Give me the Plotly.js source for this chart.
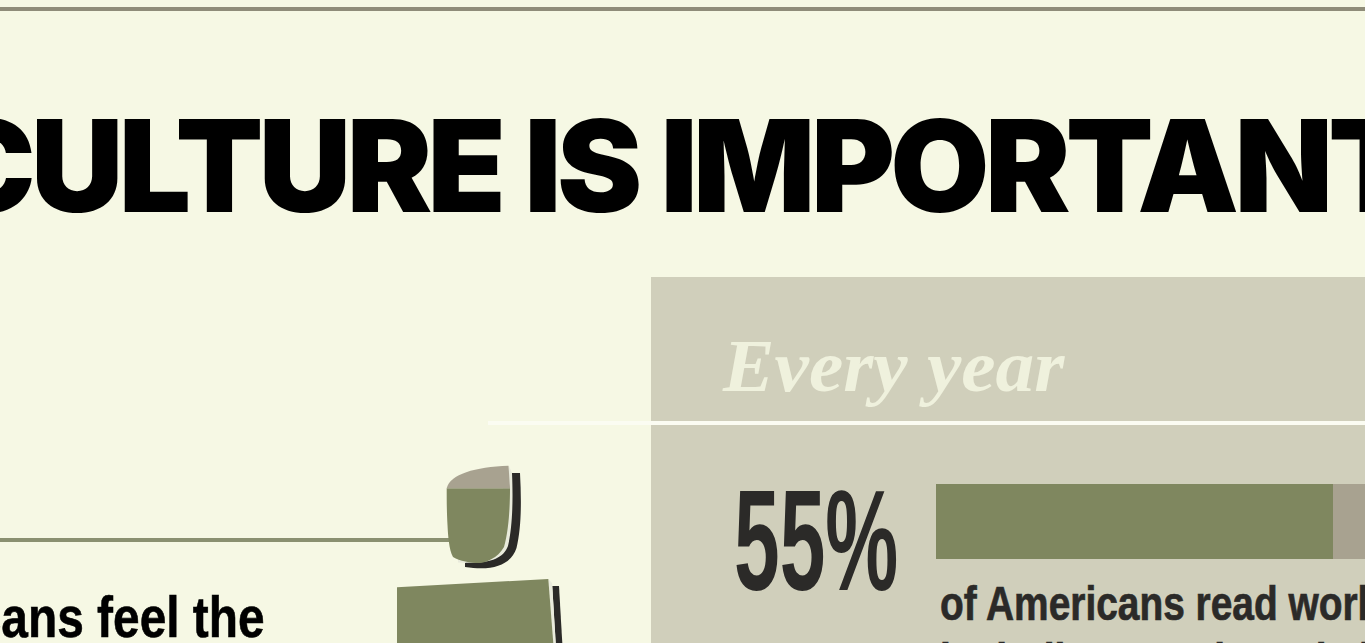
<!DOCTYPE html>
<html>
<head>
<meta charset="utf-8">
<script src="https://cdn.plot.ly/plotly-3.0.1.min.js"></script>
<style>
html, body { margin: 0; padding: 0; background: #f6f8e4; overflow: hidden; }
#chart { width: 1365px; height: 643px; }
.annotation text { transform-box: fill-box; transform-origin: left center; }
.annotation[data-index="0"] text { letter-spacing: -4.6px; word-spacing: 2px; }
.annotation[data-index="1"] text { transform: scaleX(1.045); }
.annotation[data-index="2"] text { transform: scaleX(0.574); }
.annotation[data-index="3"] text,
.annotation[data-index="4"] text { transform: scaleX(0.81); stroke: #2b2a28; stroke-width: 0.7px; }
.annotation[data-index="5"] text { transform: scaleX(0.84); stroke: #000; stroke-width: 0.6px; }
</style>
</head>
<body>
<div id="chart"></div>
<script>
// Share of Americans reading literature each year
const readingCategory = ['Every year'];
const readShare = [55];
const notReadShare = [45];
const headline = 'CULTURE IS IMPORTANT';
const panelHeading = 'Every year';
const statLabel = '55%';
const statCaption = 'of Americans read works of';
const statCaptionNext = 'including novels and short';
const sideCaption = 'Americans feel the';

const W = 1365, H = 643;
const BG = '#f6f8e4', PANEL = '#d0cfbb', GREEN = '#7f875f', TAUPE = '#a8a290', INK = '#2b2a28', PALE = '#e9ebdc';
const SANS = '"Liberation Sans", sans-serif';
const fx = p => p / W;
const fy = p => 1 - p / H;

function rect(x0, y0, x1, y1, color) {
  return { type: 'rect', xref: 'paper', yref: 'paper', layer: 'below',
    x0: fx(x0), x1: fx(x1), y0: fy(y0), y1: fy(y1), fillcolor: color, line: { width: 0 } };
}
// Outline given in page pixels, converted to paper fractions
function outline(cmds, color) {
  const path = cmds.map(c => c[0] + ' ' + c.slice(1).map((v, i) => (i % 2 ? fy(v) : fx(v)).toFixed(5)).join(' ')).join(' ');
  return { type: 'path', xref: 'paper', yref: 'paper', layer: 'below', path, fillcolor: color, line: { width: 0 } };
}
function label(text, x, y, font) {
  return { text, xref: 'paper', yref: 'paper', x: fx(x), y: fy(y), xanchor: 'left', yanchor: 'middle',
    showarrow: false, borderpad: 0, align: 'left', font };
}

const figureShapes = [
  rect(0, 7, W, 11, '#8f8c79'),
  rect(651, 277, W, 643, PANEL),
  rect(488, 421, W, 425, '#fbfcf2'),
  rect(0, 538, 452, 542, '#8a9070'),
  // head: shadow crescent, pale edge, fill, darker cap
  outline([['M', 512, 473], ['L', 520, 473], ['C', 521.5, 500, 521.5, 528, 516.5, 548], ['C', 511, 564, 495, 571.5, 465, 567], ['L', 465, 563], ['L', 505, 530], ['Z']], INK),
  outline([['M', 509, 466], ['L', 512, 473], ['C', 513, 495, 513, 525, 508, 546], ['C', 503, 559, 490, 564, 458, 562.5], ['L', 458, 540], ['L', 500, 500], ['Z']], PALE),
  outline([['M', 446.7, 488.3], ['L', 510, 488.3], ['C', 510, 505, 509, 530, 504, 547], ['C', 498, 558, 485, 563, 480, 563], ['C', 470, 563, 460, 561, 453, 557], ['C', 449, 550, 448, 535, 447.5, 525], ['C', 446.7, 510, 446.7, 500, 446.7, 488.3], ['Z']], GREEN),
  outline([['M', 446.7, 488.3], ['C', 450, 474, 475, 467, 508.5, 465.7], ['L', 510, 488.3], ['Z']], TAUPE),
  // body: shadow, pale edge, fill
  outline([['M', 552.3, 586], ['L', 559, 586], ['L', 562.3, 643], ['L', 555.7, 643], ['Z']], INK),
  outline([['M', 548.3, 579], ['L', 552, 583], ['L', 555.7, 643], ['L', 553.3, 643], ['Z']], PALE),
  outline([['M', 397, 587.3], ['L', 548.3, 579], ['L', 553.3, 643], ['L', 397, 643], ['Z']], GREEN)
];

const annotations = [
  label(headline, -61, 166, { size: 128, family: 'Inter, sans-serif', color: '#000000', weight: 900 }),
  label(panelHeading, 721, 366, { size: 74, family: '"Liberation Serif", serif', color: '#eff1dd', weight: 700, style: 'italic' }),
  label(statLabel, 733, 540.5, { size: 143, family: SANS, color: INK, weight: 700 }),
  label(statCaption, 939, 603, { size: 48, family: SANS, color: INK, weight: 700 }),
  label(statCaptionNext, 939, 660, { size: 48, family: SANS, color: INK, weight: 700 }),
  label(sideCaption, -162, 617, { size: 57, family: SANS, color: '#000000', weight: 700 })
];

const traces = [
  { type: 'bar', orientation: 'h', y: readingCategory, x: readShare, marker: { color: GREEN, line: { width: 0 } }, hoverinfo: 'skip', showlegend: false },
  { type: 'bar', orientation: 'h', y: readingCategory, x: notReadShare, marker: { color: TAUPE, line: { width: 0 } }, hoverinfo: 'skip', showlegend: false }
];

// The bar occupies one band; 397 px stands for 55 points, and the axis runs off the page edge
const barLeft = 936, barTop = 484, barBottom = 559;
const pxPerPoint = 397 / 55;

const layout = {
  width: W, height: H,
  margin: { l: 0, r: 0, t: 0, b: 0, pad: 0 },
  paper_bgcolor: BG, plot_bgcolor: 'rgba(0,0,0,0)',
  barmode: 'stack', bargap: 0,
  showlegend: false,
  xaxis: { domain: [fx(barLeft), 1], range: [0, (W - barLeft) / pxPerPoint], visible: false, fixedrange: true },
  yaxis: { domain: [fy(barBottom), fy(barTop)], visible: false, fixedrange: true },
  shapes: figureShapes,
  annotations
};

Plotly.newPlot('chart', traces, layout, { displayModeBar: false, responsive: false, staticPlot: true });
</script>
</body>
</html>
